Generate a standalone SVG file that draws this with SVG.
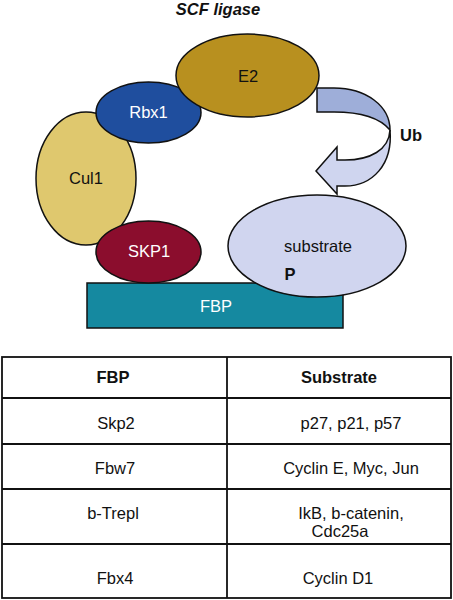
<svg xmlns="http://www.w3.org/2000/svg" width="453" height="600" viewBox="0 0 453 600">
<style>
.s{stroke:#111;stroke-width:1.5}
.t{font-family:"Liberation Sans",Arial,sans-serif;font-size:16.5px;text-anchor:middle;fill:#111}
.w{fill:#fff}
.b{font-weight:bold}
.ln{stroke:#111;stroke-width:1.8;fill:none}
</style>
<rect width="453" height="600" fill="#fff"/>
<text class="t b" x="218" y="15" font-style="italic">SCF ligase</text>
<g id="connectors">
<path class="s" fill="#9eaed9" d="M317,88 L334,88 C366,88 390,106 390,130 C380,118 360,112 334,112 L317,112 Z"/>
<path class="s" fill="#cfd5ef" d="M390,130 C393,165 372,186 345,186 L337,186 L337,194 L316,171 L337,147 L337,160 L345,160 C370,160 389,150 390,130 Z"/>
</g>
<g id="fbp"><rect class="s" x="87" y="283" width="256" height="45" fill="#1589a0"/><text class="t w" x="216" y="312">FBP</text></g>
<g id="substrate"><ellipse class="s" cx="317" cy="246" rx="89" ry="51" fill="#d0d5ef"/><text class="t" x="318" y="252">substrate</text><text class="t b" x="290" y="280">P</text></g>
<g id="cul1"><ellipse class="s" cx="86" cy="178.5" rx="50" ry="66.5" fill="#dfc86e"/><text class="t" x="86" y="183.5">Cul1</text></g>
<g id="skp1"><ellipse class="s" cx="148.5" cy="252" rx="52.5" ry="31" fill="#8b0d2d"/><text class="t w" x="149" y="257">SKP1</text></g>
<g id="rbx1"><ellipse class="s" cx="148.5" cy="112.5" rx="52.5" ry="30.5" fill="#1f4e9e"/><text class="t w" x="148.5" y="117.5">Rbx1</text></g>
<g id="e2"><ellipse class="s" cx="247.5" cy="75.5" rx="71.5" ry="41.5" fill="#b8901f"/><text class="t" x="248" y="81.5">E2</text></g>
<text class="t b" x="411" y="141">Ub</text>
<g id="table">
<rect class="ln" x="2" y="357" width="449" height="241"/>
<line class="ln" x1="227" y1="357" x2="227" y2="598"/>
<line class="ln" x1="2" y1="398" x2="451" y2="398"/>
<line class="ln" x1="2" y1="444" x2="451" y2="444"/>
<line class="ln" x1="2" y1="489" x2="451" y2="489"/>
<line class="ln" x1="2" y1="544" x2="451" y2="544"/>
<text class="t b" x="113" y="383">FBP</text>
<text class="t b" x="339" y="383">Substrate</text>
<text class="t" x="116" y="429">Skp2</text>
<text class="t" x="351" y="429">p27, p21, p57</text>
<text class="t" x="115" y="474">Fbw7</text>
<text class="t" x="351" y="474">Cyclin E, Myc, Jun</text>
<text class="t" x="113" y="519">b-Trepl</text>
<text class="t" x="351" y="519">IkB, b-catenin,</text>
<text class="t" x="340" y="537">Cdc25a</text>
<text class="t" x="115" y="584">Fbx4</text>
<text class="t" x="338" y="584">Cyclin D1</text>
</g>
</svg>
